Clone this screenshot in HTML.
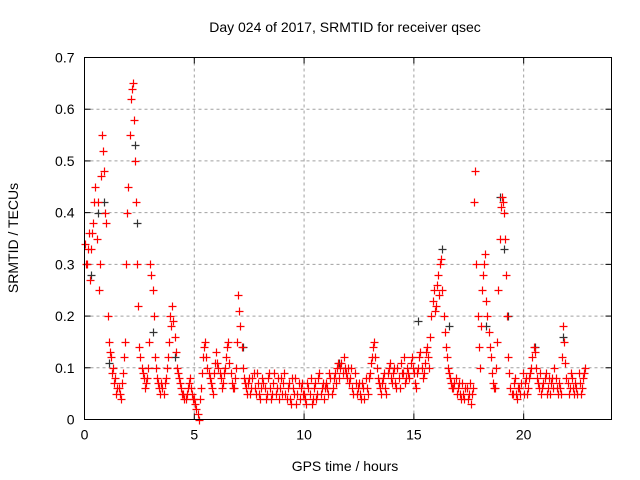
<!DOCTYPE html>
<html><head><meta charset="utf-8"><style>
body{margin:0;background:#fff;}
svg{display:block;font-family:"Liberation Sans",sans-serif;}
</style></head><body>
<svg id="chart" width="640" height="480" xmlns="http://www.w3.org/2000/svg">
<text x="345" y="32" font-size="14" text-anchor="middle">Day 024 of 2017, SRMTID for receiver qsec</text>
<text x="345" y="471" font-size="14" text-anchor="middle">GPS time / hours</text>
<text x="18" y="238" font-size="14" text-anchor="middle" transform="rotate(-90 18 238)">SRMTID / TECUs</text>
<g id="grid"></g>
<g id="ticks"></g>
<g id="marks"></g>
<rect x="84.5" y="57.5" width="527" height="362" fill="none" stroke="#000" stroke-width="1"/>
</svg>
<script>
const xTicks=[0,5,10,15,20];
const yTicks=[0,0.1,0.2,0.3,0.4,0.5,0.6,0.7];
const yTickLabels=["0","0.1","0.2","0.3","0.4","0.5","0.6","0.7"];
const hours=[0.0,0.1,0.2,0.3,0.4,0.5,0.6,0.7,0.8,0.9,1.0,1.1,1.2,1.3,1.4,1.5,1.6,1.7,1.8,1.9,2.0,2.1,2.2,2.3,2.4,2.5,2.6,2.7,2.8,2.9,3.0,3.1,3.2,3.3,3.4,3.5,3.6,3.7,3.8,3.9,4.0,4.1,4.2,4.3,4.4,4.5,4.6,4.7,4.8,4.9,5.0,5.1,5.2,5.3,5.4,5.5,5.6,5.7,5.8,5.9,6.0,6.1,6.2,6.3,6.4,6.5,6.6,6.7,6.8,6.9,7.0,7.1,7.2,7.3,7.4,7.5,7.6,7.7,7.8,7.9,8.0,8.1,8.2,8.3,8.4,8.5,8.6,8.7,8.8,8.9,9.0,9.1,9.2,9.3,9.4,9.5,9.6,9.7,9.8,9.9,10.0,10.1,10.2,10.3,10.4,10.5,10.6,10.7,10.8,10.9,11.0,11.1,11.2,11.3,11.4,11.5,11.6,11.7,11.8,11.9,12.0,12.1,12.2,12.3,12.4,12.5,12.6,12.7,12.8,12.9,13.0,13.1,13.2,13.3,13.4,13.5,13.6,13.7,13.8,13.9,14.0,14.1,14.2,14.3,14.4,14.5,14.6,14.7,14.8,14.9,15.0,15.1,15.2,15.3,15.4,15.5,15.6,15.7,15.8,15.9,16.0,16.1,16.2,16.3,16.4,16.5,16.6,16.7,16.8,16.9,17.0,17.1,17.2,17.3,17.4,17.5,17.6,17.7,17.8,17.9,18.0,18.1,18.2,18.3,18.4,18.5,18.6,18.7,18.8,18.9,19.0,19.1,19.2,19.3,19.4,19.5,19.6,19.7,19.8,19.9,20.0,20.1,20.2,20.3,20.4,20.5,20.6,20.7,20.8,20.9,21.0,21.1,21.2,21.3,21.4,21.5,21.6,21.7,21.8,21.9,22.0,22.1,22.2,22.3,22.4,22.5,22.6,22.7,22.8];
const redValues=[0.34,0.30,0.36,0.33,0.38,0.45,0.42,0.30,0.55,0.48,
0.38,0.15,0.12,0.10,0.08,0.06,0.05,0.07,0.12,0.30,
0.45,0.62,0.65,0.50,0.30,0.14,0.10,0.08,0.07,0.10,
0.30,0.25,0.12,0.08,0.06,0.07,0.05,0.08,0.12,0.20,
0.22,0.16,0.10,0.08,0.06,0.05,0.04,0.06,0.08,0.05,
0.04,0.02,0.00,0.06,0.12,0.15,0.10,0.08,0.06,0.09,
0.13,0.10,0.08,0.07,0.10,0.14,0.11,0.07,0.06,0.10,
0.24,0.18,0.10,0.07,0.05,0.08,0.06,0.09,0.05,0.07,
0.04,0.08,0.06,0.05,0.09,0.04,0.07,0.05,0.08,0.06,
0.05,0.09,0.04,0.07,0.03,0.06,0.08,0.05,0.04,0.07,
0.05,0.03,0.06,0.08,0.04,0.07,0.05,0.09,0.06,0.04,
0.07,0.05,0.08,0.06,0.09,0.10,0.08,0.11,0.12,0.09,
0.10,0.08,0.06,0.09,0.05,0.07,0.04,0.06,0.08,0.05,
0.09,0.12,0.15,0.10,0.07,0.05,0.08,0.06,0.09,0.11,
0.07,0.10,0.06,0.08,0.11,0.09,0.07,0.10,0.08,0.12,
0.09,0.06,0.10,0.13,0.08,0.11,0.14,0.10,0.20,0.25,
0.22,0.28,0.30,0.25,0.17,0.12,0.09,0.07,0.06,0.08,
0.06,0.05,0.07,0.04,0.06,0.05,0.03,0.06,0.48,0.20,
0.10,0.25,0.30,0.23,0.17,0.12,0.07,0.06,0.15,0.35,
0.43,0.40,0.28,0.12,0.06,0.05,0.08,0.04,0.06,0.07,
0.05,0.08,0.06,0.09,0.12,0.13,0.08,0.06,0.05,0.07,
0.09,0.06,0.05,0.08,0.10,0.06,0.07,0.05,0.18,0.11,
0.07,0.06,0.08,0.05,0.06,0.09,0.05,0.08,0.10];
const hoursB=[0.05,0.15,0.25,0.35,0.45,0.55,0.65,0.75,0.85,0.95,1.05,1.15,1.25,1.35,1.45,1.55,1.65,1.75,1.85,1.95,2.05,2.15,2.25,2.35,2.45,2.55,2.65,2.75,2.85,2.95,3.05,3.15,3.25,3.35,3.45,3.55,3.65,3.75,3.85,3.95,4.05,4.15,4.25,4.35,4.45,4.55,4.65,4.75,4.85,4.95,5.05,5.15,5.25,5.35,5.45,5.55,5.65,5.75,5.85,5.95,6.05,6.15,6.25,6.35,6.45,6.55,6.65,6.75,6.85,6.95,7.05,7.15,7.25,7.35,7.45,7.55,7.65,7.75,7.85,7.95,8.05,8.15,8.25,8.35,8.45,8.55,8.65,8.75,8.85,8.95,9.05,9.15,9.25,9.35,9.45,9.55,9.65,9.75,9.85,9.95,10.05,10.15,10.25,10.35,10.45,10.55,10.65,10.75,10.85,10.95,11.05,11.15,11.25,11.35,11.45,11.55,11.65,11.75,11.85,11.95,12.05,12.15,12.25,12.35,12.45,12.55,12.65,12.75,12.85,12.95,13.05,13.15,13.25,13.35,13.45,13.55,13.65,13.75,13.85,13.95,14.05,14.15,14.25,14.35,14.45,14.55,14.65,14.75,14.85,14.95,15.05,15.15,15.25,15.35,15.45,15.55,15.65,15.75,15.85,15.95,16.05,16.15,16.25,16.35,16.45,16.55,16.65,16.75,16.85,16.95,17.05,17.15,17.25,17.35,17.45,17.55,17.65,17.75,17.85,17.95,18.05,18.15,18.25,18.35,18.45,18.55,18.65,18.75,18.85,18.95,19.05,19.15,19.25,19.35,19.45,19.55,19.65,19.75,19.85,19.95,20.05,20.15,20.25,20.35,20.45,20.55,20.65,20.75,20.85,20.95,21.05,21.15,21.25,21.35,21.45,21.55,21.65,21.75,21.85,21.95,22.05,22.15,22.25,22.35,22.45,22.55,22.65,22.75];
const redValuesB=[0.30,0.33,0.27,0.36,0.42,0.35,0.25,0.47,0.52,0.40,
0.20,0.13,0.09,0.07,0.05,0.06,0.04,0.09,0.15,0.40,
0.55,0.64,0.58,0.42,0.22,0.12,0.09,0.06,0.08,0.15,
0.28,0.20,0.10,0.07,0.05,0.06,0.07,0.10,0.15,0.18,
0.19,0.13,0.09,0.07,0.05,0.04,0.05,0.07,0.06,0.04,
0.03,0.01,0.04,0.09,0.14,0.12,0.09,0.07,0.05,0.11,
0.11,0.09,0.06,0.09,0.12,0.15,0.09,0.06,0.08,0.15,
0.21,0.14,0.08,0.06,0.07,0.05,0.08,0.06,0.09,0.05,
0.06,0.07,0.04,0.08,0.06,0.05,0.09,0.06,0.04,0.08,
0.07,0.05,0.06,0.04,0.08,0.05,0.03,0.07,0.06,0.05,
0.04,0.07,0.05,0.03,0.06,0.04,0.08,0.05,0.07,0.06,
0.06,0.09,0.05,0.08,0.07,0.11,0.10,0.09,0.10,0.08,
0.07,0.10,0.05,0.07,0.06,0.05,0.07,0.04,0.06,0.08,
0.11,0.14,0.12,0.08,0.06,0.07,0.09,0.05,0.10,0.08,
0.09,0.07,0.10,0.06,0.09,0.12,0.08,0.09,0.11,0.10,
0.07,0.09,0.12,0.10,0.09,0.13,0.12,0.16,0.23,0.21,
0.26,0.24,0.31,0.20,0.14,0.10,0.08,0.06,0.07,0.05,
0.07,0.04,0.05,0.06,0.04,0.07,0.05,0.42,0.30,0.14,
0.18,0.28,0.32,0.20,0.14,0.09,0.06,0.10,0.25,0.41,
0.42,0.35,0.20,0.09,0.05,0.07,0.05,0.06,0.05,0.09,
0.07,0.05,0.08,0.10,0.14,0.10,0.07,0.09,0.06,0.08,
0.05,0.08,0.07,0.06,0.08,0.05,0.06,0.12,0.15,0.08,
0.05,0.09,0.06,0.07,0.05,0.07,0.06,0.09];
const blackHours=[0.3,0.6,0.9,1.1,2.3,2.4,3.1,4.1,7.2,11.6,15.2,16.3,16.6,18.3,18.9,19.1,19.3,20.5,21.8];
const blackValues=[0.28,0.40,0.42,0.11,0.53,0.38,0.17,0.12,0.14,0.11,0.19,0.33,0.18,0.18,0.43,0.33,0.20,0.14,0.16];

const X0=84.5,X1=611.5,Y0=419.5,Y1=57.5;
function xs(h){return X0+(h/24)*(X1-X0);}
function ys(v){return Y0-(v/0.7)*(Y0-Y1);}
const NS="http://www.w3.org/2000/svg";
const grid=document.getElementById('grid'),ticks=document.getElementById('ticks'),marks=document.getElementById('marks');
function mk(t,a,p){const e=document.createElementNS(NS,t);for(const k in a)e.setAttribute(k,a[k]);p.appendChild(e);return e;}
xTicks.forEach(h=>{
  const x=xs(h);
  if(h>0){const g=mk('line',{x1:x,x2:x,y1:Y0,y2:Y1,stroke:'#a0a0a0','stroke-dasharray':'3,3'},grid);
  
  }
  mk('line',{x1:x,x2:x,y1:Y0,y2:Y0-6,stroke:'#000'},ticks);
  mk('line',{x1:x,x2:x,y1:Y1,y2:Y1+6,stroke:'#000'},ticks);
  const t=mk('text',{x:x,y:Y0+20,'font-size':14,'text-anchor':'middle'},ticks);t.textContent=h;
  
  
});
yTicks.forEach((v,i)=>{
  const y=ys(v);
  if(v>0&&v<0.7){const g=mk('line',{x1:X0,x2:X1,y1:y,y2:y,stroke:'#a0a0a0','stroke-dasharray':'3,3'},grid);
  
  }
  mk('line',{x1:X0,x2:X0+6,y1:y,y2:y,stroke:'#000'},ticks);
  mk('line',{x1:X1,x2:X1-6,y1:y,y2:y,stroke:'#000'},ticks);
  const t=mk('text',{x:X0-10,y:y+5,'font-size':14,'text-anchor':'end'},ticks);t.textContent=yTickLabels[i];
  
  
});
function plus(h,v,col,name){
  const x=Math.round(xs(h))+0.5,y=Math.round(ys(v))+0.5;
  const p=mk('path',{d:`M${x-4},${y}H${x+4}M${x},${y-4}V${y+4}`,stroke:col,'stroke-width':1.2,fill:'none'},marks);
  
  
}
blackHours.forEach((h,i)=>plus(h,blackValues[i],'#333','black-point'));
hours.forEach((h,i)=>plus(h,redValues[i],'#ff0000','red-point'));
hoursB.forEach((h,i)=>plus(h,redValuesB[i],'#ff0000','red-point'));
</script>
</body></html>
